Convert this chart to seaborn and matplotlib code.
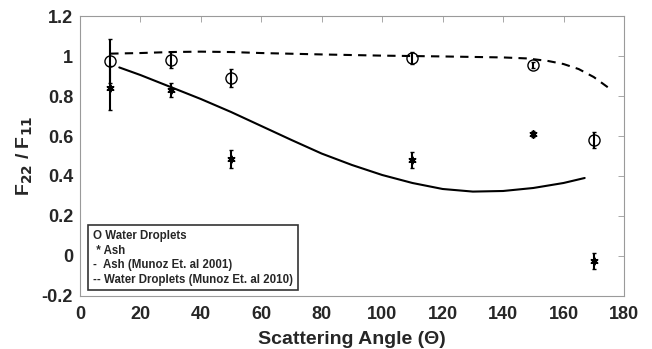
import numpy as np
import pandas as pd
import seaborn as sns
import matplotlib
matplotlib.use("Agg")
import matplotlib.pyplot as plt
from matplotlib.lines import Line2D

# Measured F22/F11 ratios with uncertainties
angles = [10, 30, 50, 110, 150, 170]
water = [0.975, 0.980, 0.890, 0.990, 0.955, 0.580]
water_err = [0.11, 0.04, 0.045, 0.03, 0.015, 0.04]
ash = [0.840, 0.830, 0.487, 0.478, 0.610, -0.025]
ash_err = [0.11, 0.035, 0.045, 0.04, 0.015, 0.04]

# Reference model curves (Munoz et al.)
ash_model_angle = [13, 20, 30, 40, 50, 60, 70, 80, 90, 100, 110, 120, 130, 140, 150, 160, 167]
ash_model_val = [0.943, 0.905, 0.845, 0.785, 0.720, 0.650, 0.580, 0.512, 0.455, 0.405, 0.365, 0.335, 0.322, 0.325, 0.340, 0.365, 0.390]
water_model_angle = [10, 20, 30, 40, 50, 60, 80, 100, 120, 140, 148, 155, 160, 165, 170, 175]
water_model_val = [1.012, 1.015, 1.020, 1.022, 1.020, 1.015, 1.008, 1.002, 0.998, 0.993, 0.988, 0.975, 0.960, 0.935, 0.895, 0.840]

legend_labels = ["O Water Droplets", " * Ash", "-  Ash (Munoz Et. al 2001)",
                 "-- Water Droplets (Munoz Et. al 2010)"]

sns.set_style("white")
plt.rcParams["font.family"] = ["Liberation Sans", "DejaVu Sans"]
plt.rcParams["font.weight"] = "bold"
plt.rcParams["mathtext.default"] = "bf"

fig = plt.figure(figsize=(6.52, 3.49), dpi=100)
ax = fig.add_axes([0.1227, 0.152, 0.8343, 0.802])

ash_df = pd.DataFrame({"angle": ash_model_angle, "value": ash_model_val})
water_df = pd.DataFrame({"angle": water_model_angle, "value": water_model_val})
sns.lineplot(data=ash_df, x="angle", y="value", ax=ax, color="black", lw=1.5)
sns.lineplot(data=water_df, x="angle", y="value", ax=ax, color="black", lw=1.5,
             linestyle=(0, (4, 3)))

ax.errorbar(angles, water, yerr=water_err, fmt="o", mfc="none", mec="black",
            ms=8, mew=1.0, ecolor="black", elinewidth=1.5, capsize=1.5, zorder=3)
ax.errorbar(angles, ash, yerr=ash_err, fmt="none", ecolor="black",
            elinewidth=1.5, capsize=1.5, zorder=3)
sns.scatterplot(x=angles, y=ash, ax=ax, marker=(6, 2, 0), s=22,
                color="black", linewidth=1.4, zorder=4)
sns.scatterplot(x=angles, y=ash, ax=ax, marker="o", s=14,
                color="black", linewidth=0, zorder=4)

ax.set_xlim(0, 180)
ax.set_ylim(-0.2, 1.2)
ax.set_xticks(np.arange(0, 181, 20))
ax.set_yticks([-0.2, 0, 0.2, 0.4, 0.6, 0.8, 1.0, 1.2])
ax.set_yticklabels(["-0.2", "0", "0.2", "0.4", "0.6", "0.8", "1", "1.2"])
ax.tick_params(direction="in", length=4, width=0.6, color="#999999",
               labelsize=13, top=True, right=True)
ax.tick_params(axis="x", pad=7)
ax.tick_params(axis="y", pad=5)
for lab in ax.get_xticklabels() + ax.get_yticklabels():
    lab.set_fontweight("bold")
for s in ax.spines.values():
    s.set_color("#9a9a9a")
    s.set_linewidth(0.8)

ax.set_xlabel("Scattering Angle (\u0398)", fontsize=14, fontweight="bold", labelpad=6)
ax.set_ylabel("F$_{22}$ / F$_{11}$", fontsize=14, fontweight="bold", labelpad=5)

handles = [Line2D([], [], linestyle="none") for _ in legend_labels]
leg = ax.legend(handles, legend_labels, loc="lower left", bbox_to_anchor=(0.005, 0.0),
                handlelength=0, handletextpad=0, borderpad=0.4, labelspacing=0.22,
                prop={"size": 8.3, "weight": "bold"}, frameon=True, fancybox=False)
leg.get_frame().set_edgecolor("black")
leg.get_frame().set_linewidth(1.2)

fig.savefig("out.png", dpi=100)
